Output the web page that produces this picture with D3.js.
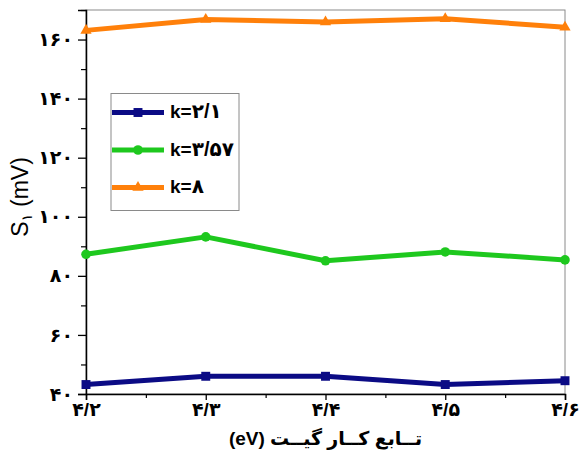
<!DOCTYPE html>
<html>
<head>
<meta charset="utf-8">
<script src="https://cdn.jsdelivr.net/npm/d3@7"></script>
<style>
  html, body { margin: 0; padding: 0; background: #ffffff; }
  svg { display: block; }
  text { font-family: Arial, "Liberation Sans", "DejaVu Sans", sans-serif; }
</style>
</head>
<body>
<svg id="chart" width="580" height="454"></svg>
<script>
// Gate work function (eV) on the x axis
const gateWorkFunction = [4.2, 4.3, 4.4, 4.5, 4.6];
const xTickLabels = ["۴/۲", "۴/۳", "۴/۴", "۴/۵", "۴/۶"];

// S1 (mV) for each k value
const seriesK21 = [43.2, 46.0, 46.0, 43.2, 44.5];
const seriesK357 = [87.3, 93.2, 85.1, 88.1, 85.4];
const seriesK8 = [163.1, 166.8, 165.9, 167.0, 164.2];

const seriesPrefix = "k=";
const seriesValues = ["۲/۱", "۳/۵۷", "۸"];

const yTickValues = [40, 60, 80, 100, 120, 140, 160];
const yTickLabels = ["۴۰", "۶۰", "۸۰", "۱۰۰", "۱۲۰", "۱۴۰", "۱۶۰"];

const svg = d3.select("#chart");
const margin = { left: 86, right: 15, top: 10, bottom: 60 };
const W = 580, H = 454;
const plotW = W - margin.left - margin.right;
const plotH = H - margin.top - margin.bottom;

const x = d3.scaleLinear().domain([4.2, 4.6]).range([margin.left, margin.left + plotW]);
const y = d3.scaleLinear().domain([40, 170]).range([margin.top + plotH, margin.top]);

// frame (top/right in grey)
svg.append("rect")
  .attr("x", margin.left).attr("y", margin.top)
  .attr("width", plotW).attr("height", plotH)
  .attr("fill", "none").attr("stroke", "#8a8a8a").attr("stroke-width", 1);

// minor ticks
const xMinor = [4.25, 4.35, 4.45, 4.55];
const yMinor = [50, 70, 90, 110, 130, 150, 170];

const xAxis = d3.axisBottom(x).tickValues(gateWorkFunction)
  .tickFormat((d, i) => xTickLabels[i]).tickSize(6).tickPadding(3);
const gx = svg.append("g").attr("transform", `translate(0,${margin.top + plotH})`).call(xAxis);
gx.selectAll(".tick text").attr("font-size", 19).attr("font-weight", "bold").attr("fill", "#000");
gx.select(".domain").attr("stroke", "#000").attr("stroke-width", 1.5);
gx.selectAll(".tick line").attr("stroke", "#000").attr("stroke-width", 1.3);
svg.append("g").attr("transform", `translate(0,${margin.top + plotH})`)
  .call(d3.axisBottom(x).tickValues(xMinor).tickSize(4).tickFormat(""))
  .call(g => g.select(".domain").remove())
  .selectAll("line").attr("stroke", "#000").attr("stroke-width", 1.2);

const yAxis = d3.axisLeft(y).tickValues(yTickValues)
  .tickFormat((d, i) => yTickLabels[i]).tickSize(8).tickPadding(5);
const gy = svg.append("g").attr("transform", `translate(${margin.left},0)`).call(yAxis);
gy.selectAll(".tick text").attr("font-size", 19).attr("font-weight", "bold").attr("fill", "#000");
gy.select(".domain").attr("stroke", "#000").attr("stroke-width", 1.5);
gy.selectAll(".tick line").attr("stroke", "#000").attr("stroke-width", 1.3);
svg.append("g").attr("transform", `translate(${margin.left},0)`)
  .call(d3.axisLeft(y).tickValues(yMinor).tickSize(5).tickFormat(""))
  .call(g => g.select(".domain").remove())
  .selectAll("line").attr("stroke", "#000").attr("stroke-width", 1.2);

// series
const series = [
  { label: seriesValues[0], values: seriesK21, color: "#0b0b85", symbol: d3.symbolSquare, size: 80 },
  { label: seriesValues[1], values: seriesK357, color: "#1ec81e", symbol: d3.symbolCircle, size: 72 },
  { label: seriesValues[2], values: seriesK8, color: "#ff800a", symbol: d3.symbolTriangle, size: 55 }
];

const line = d3.line().x((d, i) => x(gateWorkFunction[i])).y(d => y(d));

series.forEach(s => {
  svg.append("path").datum(s.values)
    .attr("d", line).attr("fill", "none")
    .attr("stroke", s.color).attr("stroke-width", 5)
    .attr("stroke-linejoin", "round");
  svg.selectAll(null).data(s.values).enter().append("path")
    .attr("d", d3.symbol().type(s.symbol).size(s.size))
    .attr("transform", (d, i) => `translate(${x(gateWorkFunction[i])},${y(d)})`)
    .attr("fill", s.color);
});

// legend
const lg = svg.append("g");
lg.append("rect").attr("x", 111).attr("y", 93.5).attr("width", 128).attr("height", 117)
  .attr("fill", "#fff").attr("stroke", "#8a8a8a").attr("stroke-width", 1);
series.forEach((s, i) => {
  const cy = 112.5 + i * 37.5;
  lg.append("line").attr("x1", 112).attr("x2", 164).attr("y1", cy).attr("y2", cy)
    .attr("stroke", s.color).attr("stroke-width", 5);
  lg.append("path").attr("d", d3.symbol().type(s.symbol).size(s.size))
    .attr("transform", `translate(138,${cy})`).attr("fill", s.color);
  const t = lg.append("text").attr("x", 170).attr("y", cy).attr("dy", "0.36em")
    .attr("font-weight", "bold").attr("fill", "#000");
  t.append("tspan").attr("font-size", 19).text(seriesPrefix);
  t.append("tspan").attr("font-size", 20).text(s.label);
});

// axis titles
svg.append("text")
  .attr("x", margin.left + plotW / 2).attr("y", 445)
  .attr("text-anchor", "middle").attr("direction", "rtl")
  .attr("font-size", 19).attr("font-weight", "bold").attr("fill", "#000")
  .text("تــابع کــار گیــت (eV)");

const yt = svg.append("text")
  .attr("transform", `translate(28,197) rotate(-90)`)
  .attr("text-anchor", "middle").attr("fill", "#000").attr("font-size", 23);
yt.append("tspan").text("S");
yt.append("tspan").attr("font-size", 15).attr("dy", 4).text("۱");
yt.append("tspan").attr("dy", -4).text(" (mV)");
</script>
</body>
</html>
